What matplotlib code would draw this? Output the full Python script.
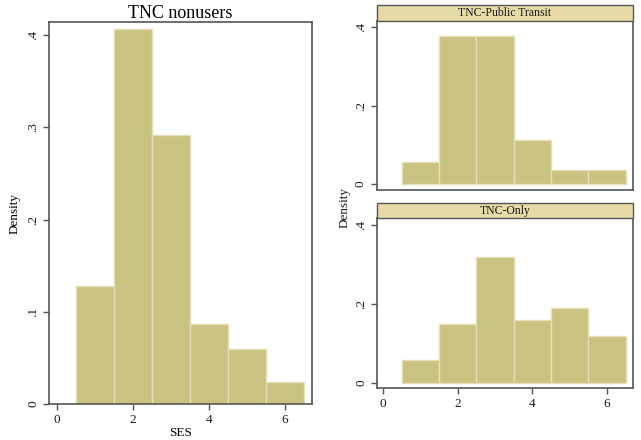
import matplotlib.pyplot as plt
from matplotlib.patches import Rectangle

# SES classes (bar centres) and densities per group
ses = [1, 2, 3, 4, 5, 6]
dens_nonusers = [0.128, 0.406, 0.292, 0.087, 0.060, 0.024]
dens_transit = [0.055, 0.377, 0.377, 0.111, 0.036, 0.036]
dens_only = [0.059, 0.150, 0.318, 0.160, 0.190, 0.119]

x_ticks = [0, 2, 4, 6]
y_ticks_left = [0, 0.1, 0.2, 0.3, 0.4]
y_ticks_right = [0, 0.2, 0.4]

bar_color = "#c9c281"
bar_edge = "#e4dfb4"
strip_color = "#e6dba6"
frame_color = "#555555"

plt.rcParams["font.family"] = ["Liberation Serif", "DejaVu Serif"]


def stata_fmt(v):
    # Stata-style labels: ".4", ".1", "0"
    if v == 0:
        return "0"
    return ("%g" % v).lstrip("0")


def style_axes(ax, yticks, xlim, ylim, show_x=True):
    ax.set_xlim(*xlim)
    ax.set_ylim(*ylim)
    ax.set_yticks(yticks)
    ax.set_yticklabels([stata_fmt(v) for v in yticks], rotation=90, va="center")
    if show_x:
        ax.set_xticks(x_ticks)
        ax.set_xticklabels([str(v) for v in x_ticks])
    else:
        ax.set_xticks([])
    ax.tick_params(direction="out", length=4, width=1, colors=frame_color,
                   labelcolor="#1a1a1a", labelsize=9.5, pad=3)
    for s in ax.spines.values():
        s.set_color(frame_color)
        s.set_linewidth(1.2)


def add_strip(ax, text, height_px, axes_px):
    h = height_px / axes_px
    ax.add_patch(Rectangle((0, 1), 1, h, transform=ax.transAxes, clip_on=False,
                           facecolor=strip_color, edgecolor=frame_color,
                           linewidth=1.0, zorder=3))
    ax.text(0.5, 1 + h / 2, text, transform=ax.transAxes, ha="center",
            va="center", fontsize=8.5, color="#1a1a1a", zorder=4)


fig = plt.figure(figsize=(6.41, 4.40), dpi=100)

# left panel: TNC nonusers
ax1 = fig.add_axes([0.0769, 0.0818, 0.4098, 0.868])
ax1.bar(ses, dens_nonusers, width=1, color=bar_color, edgecolor=bar_edge, linewidth=1)
style_axes(ax1, y_ticks_left, (-0.21, 6.71), (0, 0.414))
ax1.set_title("TNC nonusers", fontsize=13, pad=2)
ax1.set_ylabel("Density", fontsize=9.5, labelpad=5)
ax1.set_xlabel("SES", fontsize=9.5, labelpad=1)

# top right: TNC-Public Transit
ax2 = fig.add_axes([0.5877, 0.5682, 0.4003, 0.3848])
ax2.bar(ses, dens_transit, width=1, color=bar_color, edgecolor=bar_edge, linewidth=1)
style_axes(ax2, y_ticks_right, (-0.17, 6.70), (-0.016, 0.417), show_x=False)
add_strip(ax2, "TNC-Public Transit", 16, 169.3)

# bottom right: TNC-Only
ax3 = fig.add_axes([0.5881, 0.1175, 0.3994, 0.3864])
ax3.bar(ses, dens_only, width=1, color=bar_color, edgecolor=bar_edge, linewidth=1)
style_axes(ax3, y_ticks_right, (-0.17, 6.70), (-0.014, 0.417))
add_strip(ax3, "TNC-Only", 15.3, 170)

fig.text(345 / 641, 1 - 207 / 440, "Density", rotation=90, ha="center",
         va="center", fontsize=9.5, color="#1a1a1a")

fig.savefig("out.png", dpi=100)
